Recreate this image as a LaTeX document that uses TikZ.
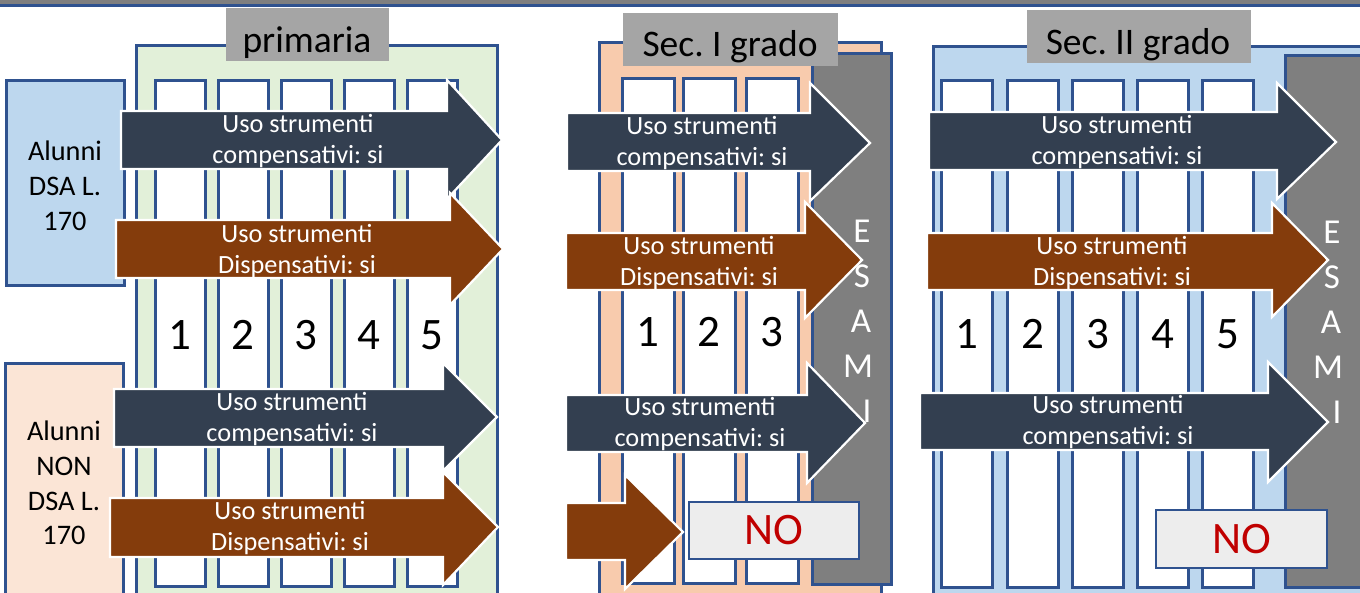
\documentclass[tikz,border=0pt]{standalone}
\usepackage{fontspec}
\setmainfont{Carlito}
\frenchspacing
\definecolor{navy}{HTML}{333F50}
\definecolor{brownA}{HTML}{843C0C}
\definecolor{bord}{HTML}{2F528F}
\definecolor{greenF}{HTML}{E2F0D9}
\definecolor{blueF}{HTML}{BDD7EE}
\definecolor{peach}{HTML}{F8CBAD}
\definecolor{pinkL}{HTML}{FBE5D6}
\definecolor{titleg}{HTML}{A5A5A5}
\definecolor{esamig}{HTML}{7F7F7F}
\definecolor{nobox}{HTML}{EDEDED}
\definecolor{nored}{HTML}{C00000}
\newcommand\rbox[7][]{\node[#1, anchor=north west, inner sep=0pt, outer sep=0pt, minimum width={#5-#3}, minimum height={#6-#4}] (#2) at (#3,#4) {#7};}
\newcommand\barrow[9]{\filldraw[arrw, fill=#1] (#2,#3) -- (#5,#3) -- (#5,#6) -- (#8,#9) -- (#5,#7) -- (#5,#4) -- (#2,#4) -- cycle;}
\begin{document}
\begin{tikzpicture}[x=1pt,y=-1pt,
  cont/.style={draw=bord, line width=3pt},
  colbox/.style={draw=bord, line width=3pt, fill=white},
  ttlbox/.style={fill=titleg},
  arrw/.style={draw=white, line width=2.2pt, line join=miter},
  atxt/.style={text=white, font=\fontsize{26.3}{31}\selectfont, align=center, inner sep=0pt},
  num/.style={font=\fontsize{45}{50}\selectfont, anchor=base, inner sep=0pt},
  ttxt/.style={font=\fontsize{37.5}{44}\selectfont, anchor=base, inner sep=0pt},
  esl/.style={text=white, font=\fontsize{35}{42}\selectfont, anchor=base, inner sep=0pt},
  nob/.style={draw=bord, line width=2.5pt, fill=nobox, text=nored, font=\fontsize{45}{50}\selectfont},
  side/.style={draw=bord, line width=3pt},
  sidetxt/.style={font=\fontsize{28.3}{34.8}\selectfont, align=center, inner sep=0pt}
]
\useasboundingbox (0,0) rectangle (1360,593);
\clip (0,0) rectangle (1360,593);
\fill[white] (0,0) rectangle (1360,593);
% top band
\fill[esamig] (0,-2) rectangle (1360,4.5);
\fill[bord] (0,4.5) rectangle (1360,7);
% side boxes
\rbox[side, fill=blueF]{dsa}{6}{81}{124}{286}{}
\node[sidetxt] (dsat) at (65,186) {Alunni\\DSA L.\\170};
\rbox[side, fill=pinkL]{nondsa}{5}{364}{123}{610}{}
\node[sidetxt] (nondsat) at (64,483) {Alunni\\NON\\DSA L.\\170};
% containers
\rbox[cont, fill=greenF]{prim}{136}{46}{497}{610}{}
\rbox[cont, fill=peach]{sec1}{599}{43}{881}{610}{}
\rbox[cont, fill=blueF]{sec2}{933}{47}{1375}{610}{}
% columns primaria
\foreach \x [count=\i] in {155,218,281,344,407}{
  \rbox[colbox]{p\i}{\x}{81}{\x+50}{586}{}
  \node[num] (pn\i) at (\x+25,350) {\i};
}
% columns sec I
\foreach \x [count=\i] in {622,683,746}{
  \rbox[colbox]{s\i}{\x}{79}{\x+52}{583}{}
  \node[num] (sn\i) at (\x+26,347) {\i};
}
% columns sec II
\foreach \x [count=\i] in {941,1007,1072,1137,1202}{
  \rbox[colbox]{t\i}{\x}{81}{\x+51}{587}{}
  \node[num] (tn\i) at (\x+25.5,349) {\i};
}
% esami boxes
\rbox[draw=bord, line width=3pt, fill=esamig]{es1}{812}{54}{891}{584}{}
\rbox[draw=bord, line width=3pt, fill=esamig]{es2}{1285}{56}{1375}{587}{}
% titles
\rbox[ttlbox]{tp}{226}{8}{389}{61}{}
\node[ttxt] (tpt) at (307,53) {primaria};
\rbox[ttlbox]{ts1}{623}{13}{838}{66}{}
\node[ttxt] (ts1t) at (730,57) {Sec. I grado};
\rbox[ttlbox]{ts2}{1027}{10}{1251}{63}{}
\node[ttxt] (ts2t) at (1138,55) {Sec. II grado};
% arrows primaria
\barrow{navy}{121}{111}{169}{447}{80}{199}{502}{140}
\node[atxt] (a1) at (298,141) {Uso strumenti\\compensativi: si};
\barrow{brownA}{116}{220}{278}{450}{193}{305}{503}{249}
\node[atxt] (a2) at (297,251) {Uso strumenti\\Dispensativi: si};
\barrow{navy}{114}{389}{447}{443}{363}{471}{497}{417}
\node[atxt] (a3) at (292,419) {Uso strumenti\\compensativi: si};
\barrow{brownA}{110}{498}{557}{443}{472}{585}{498}{527}
\node[atxt] (a4) at (290,528) {Uso strumenti\\Dispensativi: si};
% arrows sec I
\barrow{navy}{567}{113}{171}{810}{83}{201}{870}{143}
\node[atxt] (a5) at (702,143) {Uso strumenti\\compensativi: si};
\barrow{brownA}{566}{233}{290}{805}{202}{318}{862}{260}
\node[atxt] (a6) at (699,263) {Uso strumenti\\Dispensativi: si};
\barrow{navy}{566}{395}{452}{807}{363}{483}{865}{423}
\node[atxt] (a7) at (700,424) {Uso strumenti\\compensativi: si};
\barrow{brownA}{566}{503}{560}{625}{475}{589}{683}{532}
% arrows sec II
\barrow{navy}{929}{112}{170}{1277}{83}{199}{1336}{142}
\node[atxt] (a9) at (1117,142) {Uso strumenti\\compensativi: si};
\barrow{brownA}{927}{233}{290}{1272}{203}{317}{1328}{260}
\node[atxt] (a10) at (1112,263) {Uso strumenti\\Dispensativi: si};
\barrow{navy}{920}{393}{450}{1268}{362}{482}{1328}{422}
\node[atxt] (a11) at (1108,422) {Uso strumenti\\compensativi: si};
% ESAMI letters
\foreach \l/\y/\dx [count=\i] in {E/243/0,S/288/0,A/333/-1,M/378/-4,I/422/5}{
  \node[esl] (ea\i) at (862+\dx,\y) {\l};
  \node[esl] (eb\i) at (1332+\dx,\y+1) {\l};
}
% NO boxes
\rbox[nob]{no1}{689}{502}{859}{559}{NO}
\rbox[nob]{no2}{1156}{510}{1327}{568}{NO}
\end{tikzpicture}
\end{document}
